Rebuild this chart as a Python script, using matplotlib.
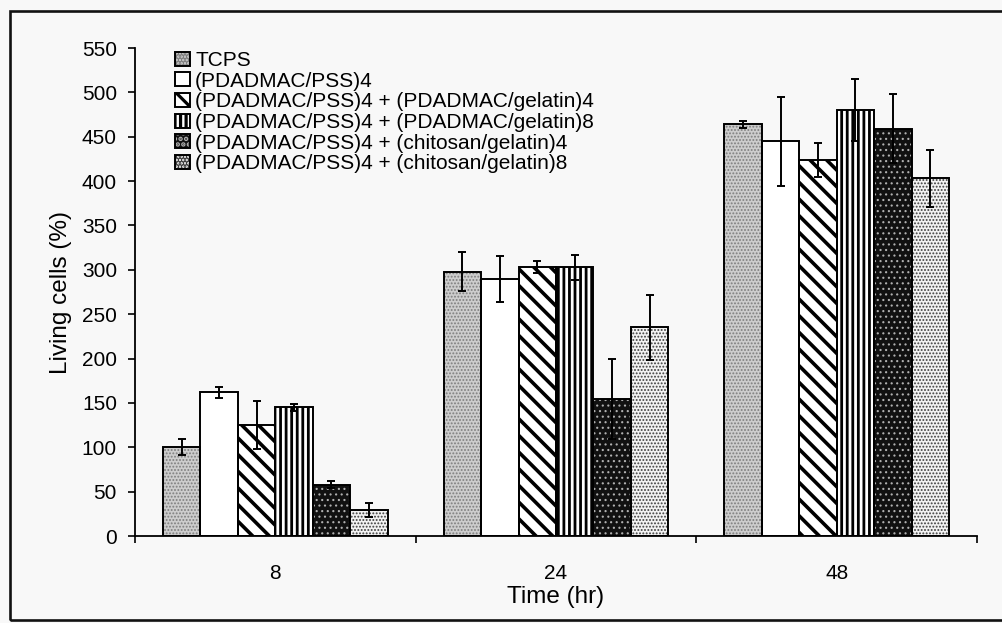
import numpy as np
import matplotlib
matplotlib.use('Agg')
import matplotlib.pyplot as plt
from matplotlib.patches import Rectangle
from matplotlib.legend_handler import HandlerTuple

times = ['8', '24', '48']
groups = [
    'TCPS',
    '(PDADMAC/PSS)4',
    '(PDADMAC/PSS)4 + (PDADMAC/gelatin)4',
    '(PDADMAC/PSS)4 + (PDADMAC/gelatin)8',
    '(PDADMAC/PSS)4 + (chitosan/gelatin)4',
    '(PDADMAC/PSS)4 + (chitosan/gelatin)8',
]

# living cells (%) per group, one value per time point
tcps = [100, 298, 464]
pss4 = [162, 290, 445]
pgel4 = [125, 303, 424]
pgel8 = [145, 303, 480]
chit4 = [58, 154, 459]
chit8 = [29, 235, 403]

tcps_err = [9, 22, 4]
pss4_err = [6, 26, 50]
pgel4_err = [27, 7, 19]
pgel8_err = [4, 14, 35]
chit4_err = [4, 45, 39]
chit8_err = [8, 37, 32]

values = [tcps, pss4, pgel4, pgel8, chit4, chit8]
errors = [tcps_err, pss4_err, pgel4_err, pgel8_err, chit4_err, chit8_err]

# fill colour, hatch pattern, hatch colour, hatch line width
styles = [
    ('#cdcdcd', '.....', '#7e7e7e', 0.9),
    ('#ffffff', '', '#000000', 1.0),
    ('#ffffff', '\\\\', '#000000', 2.6),
    ('#ffffff', '|||', '#000000', 2.0),
    ('#111111', '...', '#b0b0b0', 0.8),
    ('#f2f2f2', '.....', '#3c3c3c', 0.9),
]

plt.rcParams.update({
    'font.family': ['Liberation Sans', 'DejaVu Sans'],
    'font.size': 15,
    'hatch.linewidth': 2.3,
})

BG = '#f8f8f8'
W, H = 1002, 623
fig = plt.figure(figsize=(W / 100, H / 100), dpi=100, facecolor=BG)
ax = fig.add_axes([135 / W, 1 - 536 / H, (977 - 135) / W, (536 - 48) / H])
ax.set_facecolor('none')

n = len(groups)
bw = 1 / 7.5
x = np.arange(len(times))

legend_handles = []
for k in range(n):
    face, hatch, hcol, hlw = styles[k]
    pos = x + 0.1 + bw * (k + 0.5)
    fill = ax.bar(pos, values[k], width=bw, color=face, edgecolor=hcol,
                  linewidth=0, hatch=hatch, zorder=2)
    for p in fill:
        if hasattr(p, 'set_hatch_linewidth'):
            p.set_hatch_linewidth(hlw)
    edge = ax.bar(pos, values[k], width=bw, fill=False, edgecolor='black',
                  linewidth=1.4, zorder=3)
    ax.errorbar(pos, values[k], yerr=errors[k], fmt='none', ecolor='black',
                elinewidth=1.4, capsize=3, capthick=1.4, zorder=4)
    legend_handles.append((fill[0], edge[0]))

ax.set_xlim(0, len(times))
ax.set_ylim(0, 550)
ax.set_yticks(np.arange(0, 551, 50))

ax.set_xticks(np.arange(len(times) + 1))
ax.set_xticklabels([])
ax.set_xticks(x + 0.5, minor=True)
ax.set_xticklabels(times, minor=True)
ax.tick_params(axis='x', which='major', direction='out', length=5, width=1.2)
ax.tick_params(axis='x', which='minor', length=0, pad=20.5)
ax.tick_params(axis='y', direction='out', length=5, width=1.2, pad=8)

for s in ['top', 'right']:
    ax.spines[s].set_visible(False)
for s in ['left', 'bottom']:
    ax.spines[s].set_linewidth(1.3)

ax.set_xlabel('Time (hr)', fontsize=17.5, labelpad=2)
ax.set_ylabel('Living cells (%)', fontsize=17.5, labelpad=7)

ax.legend(legend_handles, groups, handler_map={tuple: HandlerTuple(ndivide=1)},
          loc='upper left', bbox_to_anchor=(175 / W, 1 - 51 / H),
          bbox_transform=fig.transFigure, frameon=False, borderpad=0,
          borderaxespad=0, handlelength=0.72, handleheight=0.65,
          handletextpad=0.25, labelspacing=0.08)

# outer border around the whole chart
fig.patches.append(Rectangle((10 / W, 3 / H), 1.0, 1 - 14 / H,
                             transform=fig.transFigure, fill=False,
                             edgecolor='#111111', linewidth=1.9))

fig.savefig('out.png', dpi=100, facecolor=BG)
